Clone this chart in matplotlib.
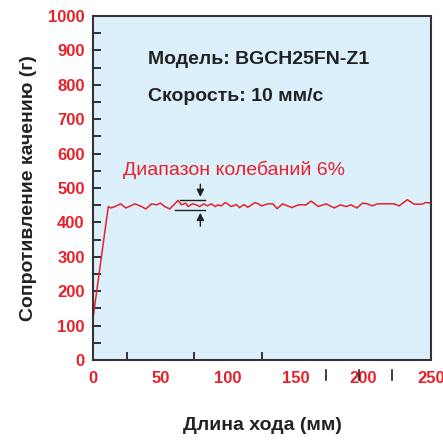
import matplotlib.pyplot as plt
import matplotlib.transforms as mtransforms

plt.rcParams["font.family"] = ["Liberation Sans", "DejaVu Sans"]

# данные
stroke = [0, 11.3, 13.3, 16.2, 20.4, 24.3, 27.8, 31, 35.9, 39.1, 43.3, 47, 49.9,
          53.1, 56.8, 62.9, 65.4, 68.6, 70.3, 73.5, 76.5, 78.9, 81.9, 84.6, 87.5,
          90.5, 92.4, 94.9, 97.9, 102.3, 106, 108.4, 111.6, 114.5, 120, 124.9,
          129.3, 133, 136.2, 140.3, 147, 151.9, 157.6, 161.3, 165, 166.5, 172.3,
          178.5, 182.9, 187.1, 190.8, 195.2, 199.3, 203, 206.7, 210.4, 222.7,
          226.4, 232.5, 237.5, 243.6, 246, 250]
resist = [121, 446, 442, 446, 454, 442, 448, 454, 446, 439, 454, 451, 456,
          446, 439, 464, 451, 456, 446, 454, 451, 446, 454, 448, 454,
          446, 451, 448, 458, 446, 452, 443, 452, 444, 458, 448,
          454, 454, 440, 454, 443, 451, 451, 462, 451, 446, 454,
          442, 451, 446, 451, 442, 456, 454, 448, 454, 454,
          448, 466, 453, 453, 458, 456]

band_low, band_high = 436, 466
x_ticks = [0, 50, 100, 150, 200, 250]
y_ticks = list(range(0, 1001, 100))
stray_marks = [172, 197, 221]

red = "#e8202a"
dark = "#222222"

fig = plt.figure(figsize=(4.43, 4.41), dpi=100)
ax = fig.add_axes([93 / 443, 1 - 360 / 441, (431 - 93) / 443, (360 - 16) / 441])
ax.set_facecolor("#dcf0fb")

ax.plot(stroke, resist, color=red, linewidth=1.1)

# диапазон колебаний
ax.plot([64.7, 82.6], [band_high, band_high], color=dark, linewidth=1)
ax.plot([60.3, 82.6], [band_low, band_low], color=dark, linewidth=1)
ax.annotate("", xy=(79.4, band_high), xytext=(79.4, 519),
            arrowprops=dict(arrowstyle="-|>", color=dark, lw=1, mutation_scale=11))
ax.annotate("", xy=(79.4, band_low), xytext=(79.4, 381),
            arrowprops=dict(arrowstyle="-|>", color=dark, lw=1, mutation_scale=11))

ax.text(22.1, 553, "Диапазон колебаний 6%", color=red, fontsize=14, va="center")
ax.text(40.6, 873, "Модель: BGCH25FN-Z1", color=dark, fontsize=14,
        fontweight="bold", va="center")
ax.text(40.6, 766, "Скорость: 10 мм/с", color=dark, fontsize=14,
        fontweight="bold", va="center")

ax.set_xlim(0, 250)
ax.set_ylim(0, 1000)
ax.set_xticks(x_ticks)
ax.set_yticks(y_ticks)
ax.set_xticks([25, 50, 75, 100, 125, 150], minor=True)
ax.set_yticks(list(range(50, 1000, 100)), minor=True)
ax.tick_params(axis="x", which="major", length=0, pad=8, labelcolor=red,
               labelsize=12)
ax.tick_params(axis="x", which="minor", direction="in", length=6, width=1.3,
               color=dark)
ax.tick_params(axis="y", which="both", direction="in", length=6, width=1.3,
               color=dark, pad=6, labelcolor=red, labelsize=12)
for lbl in ax.get_xticklabels() + ax.get_yticklabels():
    lbl.set_fontweight("bold")

for s in ax.spines.values():
    s.set_color("#333333")
    s.set_linewidth(1.5)

# лишние штрихи под осью
trans = mtransforms.blended_transform_factory(ax.transData, ax.transAxes)
for xm in stray_marks:
    ax.plot([xm, xm], [-0.03, -0.058], color=dark, linewidth=1.2,
            transform=trans, clip_on=False)

ax.set_ylabel("Сопротивление качению (г)", fontsize=14, fontweight="bold",
              color=dark, labelpad=8)
ax.set_xlabel("Длина хода (мм)", fontsize=14, fontweight="bold", color=dark,
              labelpad=22)

fig.savefig("out.png", dpi=100)
